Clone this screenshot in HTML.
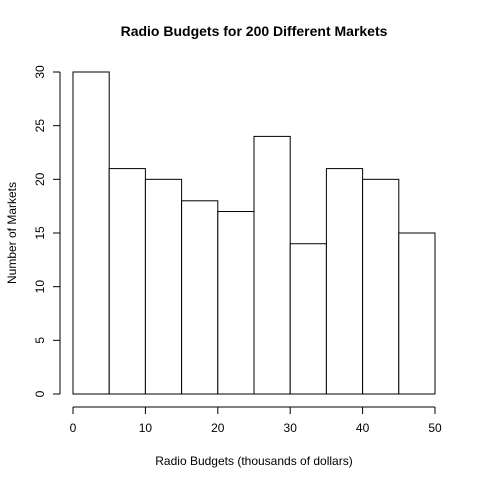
<!DOCTYPE html>
<html><head><meta charset="utf-8"><style>
body{margin:0;background:#fff}
svg{display:block;font-family:"Liberation Sans",Arial,sans-serif}
</style></head><body>
<svg id="chart" width="480" height="480" viewBox="0 0 480 480">
<rect width="480" height="480" fill="#fff"/>
<text x="254" y="36" text-anchor="middle" font-size="14" font-weight="bold">Radio Budgets for 200 Different Markets</text>
<text x="254" y="465" text-anchor="middle" font-size="12">Radio Budgets (thousands of dollars)</text>
<text transform="translate(16,233) rotate(-90)" text-anchor="middle" font-size="12">Number of Markets</text>
<g id="bars"></g><g id="xaxis"></g><g id="yaxis"></g>
</svg>
<script>
const binStarts=[0,5,10,15,20,25,30,35,40,45];
const binWidth=5;
const counts=[30,21,20,18,17,24,14,21,20,15];
const xTicks=[0,10,20,30,40,50];
const yTicks=[0,5,10,15,20,25,30];
const NS="http://www.w3.org/2000/svg";
const xs=v=>73+v*(435-73)/50;
const ys=v=>394-v*(394-72)/30;
function mk(t,a,p){const e=document.createElementNS(NS,t);for(const k in a)e.setAttribute(k,a[k]);p.appendChild(e);return e;}
const bars=document.getElementById('bars');
binStarts.forEach((b,i)=>{
 const r=mk('rect',{x:xs(b),y:ys(counts[i]),width:xs(b+binWidth)-xs(b),height:ys(0)-ys(counts[i]),fill:'#fff',stroke:'#000','stroke-width':1},bars);
 
 
});
const xa=document.getElementById('xaxis');
const xl=mk('line',{x1:xs(xTicks[0]),x2:xs(xTicks[xTicks.length-1]),y1:407,y2:407,stroke:'#000'},xa);


xTicks.forEach(t=>{
 mk('line',{x1:xs(t),x2:xs(t),y1:407,y2:414,stroke:'#000'},xa);
 const tx=mk('text',{x:xs(t),y:432,'text-anchor':'middle','font-size':12},xa);
 tx.textContent=t;
 
 
});
const ya=document.getElementById('yaxis');
const yl=mk('line',{x1:60,x2:60,y1:ys(yTicks[0]),y2:ys(yTicks[yTicks.length-1]),stroke:'#000'},ya);


yTicks.forEach(t=>{
 mk('line',{x1:53,x2:60,y1:ys(t),y2:ys(t),stroke:'#000'},ya);
 const tx=mk('text',{transform:'translate(44,'+ys(t)+') rotate(-90)','text-anchor':'middle','font-size':12},ya);
 tx.textContent=t;
 
 
});
</script>
</body></html>
